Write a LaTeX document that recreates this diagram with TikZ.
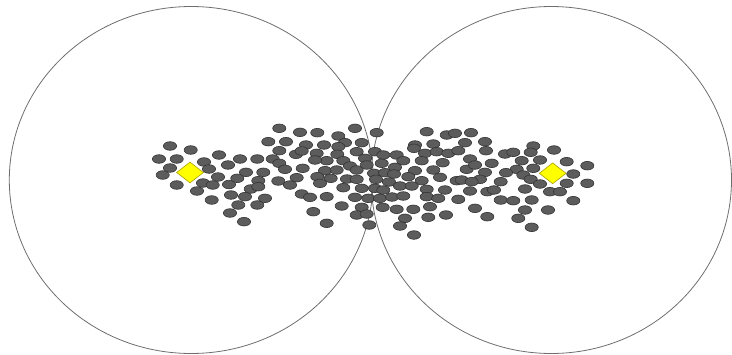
\documentclass[tikz,border=0pt]{standalone}
\usetikzlibrary{shapes.geometric}
\definecolor{dotfill}{RGB}{92,92,92}
\definecolor{dotedge}{RGB}{52,52,52}
\definecolor{ringcol}{RGB}{110,110,110}
\definecolor{diafill}{RGB}{255,255,0}
\definecolor{diaedge}{RGB}{170,160,0}
\tikzset{
  ring/.style={draw=ringcol, line width=0.8pt},
  dot/.style={fill=dotfill, draw=dotedge, line width=0.6pt},
  sink/.style={shape=diamond, fill=diafill, draw=diaedge, line width=0.6pt,
    inner sep=0pt, minimum width=27pt, minimum height=21pt}
}
\begin{document}
\begin{tikzpicture}[x=1pt,y=-1pt]
\useasboundingbox (0,0) rectangle (732,354);
\draw[ring] (191.2,180) ellipse [x radius=181.9, y radius=173.5];
\draw[ring] (551.3,180) ellipse [x radius=180.2, y radius=173.5];
\foreach \x/\y in {
170/146,190.7/150,159/159,176.7/159,219/155,170/168,204/162,228/165,162.7/175,209/169,218/177,176.7/185,203/183,212.7/185,229/184.5,197/191,231/195,211.7/200,230/213,
279.3/128.3,300/132.3,268.3/141.7,286/141.7,306/145,279.3/150.7,296/154.3,301.7/151,240/159,257.3/159,272.7/159,279.3/163.3,285/169.3,302.7/168.3,246/172.3,263.3/172.3,237.3/178.3,258.3/180.7,278.3/181,296.7/177.7,290/185,250.7/189,258.3/186.7,245/196.7,265/198.3,301.7/194,310/197.3,238.3/205,257.3/205,244/221.7,
355/128.3,317.3/132.7,338.3/136,376.7/132.7,345/142.7,361.7/142.7,324/145,338.3/146.7,316.7/153.3,337.3/154.3,356.7/151.7,375/151.7,383.3/155,326.7/160.7,343.3/160.7,315/160,365/158.3,350/166,366.7/165,381.7/163.3,356.7/170,325/170.7,336.7/170,374/173.3,385/172.7,317.3/176.7,330.7/178.3,347/179,356.7/179.3,376/179.3,389/182,320/183.3,343.3/187.7,361.7/188.3,375/188.3,383.3/190,326.7/196.7,355/197.3,368.3/198.3,380/198.3,392/197,341.7/206,361.7/207.3,382.7/207.3,313.3/211.7,356.7/215,366.7/214,326.7/223.3,369.3/225,
426.7/131.7,446.7/135,455/133.3,471/132.7,415/145,433.3/144,465/142.7,414/148.3,425/153.3,436.7/151.7,448.3/153.3,458.3/150.7,396.7/155,403.3/160.7,421.7/160.7,442.7/162.7,470/159,395/167.3,415/170.7,433.3/170,466.7/169.3,394/174,408.3/176.7,440/177.3,421.7/180.7,456.7/180.7,461.7/180,400/186,411.7/186,426.7/189.3,445/190,470/191,403.3/196,426.7/196.7,438.3/198.3,458.3/199.3,430/206.7,396.7/209.3,413.3/209.3,446/215,428.3/217.3,405/218.3,400/226,414/235,
485/141.7,486/150.7,533.3/146,505/154,513.3/152.3,530.7/152.3,521.7/160.7,540/160,491.7/163.3,475/165,516.7/169.3,533.3/168.3,485/172.3,506/172.7,523.3/175,480/179.3,471.7/181.7,530.7/179.3,500.7/181.7,540/184,487.3/191.7,494/190,525/189,550/191.7,500.7/200,513.3/200.7,531.7/200,475/208.3,525/210,548/210,487.3/216.7,518.3/218.3,531.7/227.3,
554/150,566.7/161.7,587.3/165.7,573.3/174,566.7/183.3,587.3/183.3,560/191.7,573.3/200.7}
  \draw[dot] (\x,\y) ellipse [x radius=6.6, y radius=4.3];
\node[sink] (sinkL) at (190,172.5) {};
\node[sink] (sinkR) at (552.7,173.3) {};
\end{tikzpicture}
\end{document}
